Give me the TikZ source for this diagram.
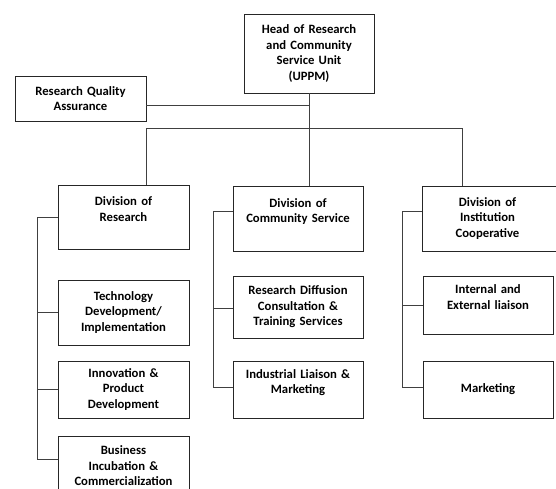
\documentclass[tikz,border=0pt]{standalone}
\usepackage{fontspec}
\setmainfont{Carlito}
\usetikzlibrary{positioning}
\tikzset{
  unit/.style={draw=black!85, line width=0.8pt, minimum width=130pt, inner sep=0pt,
    text width=128pt, align=center, font=\bfseries\fontsize{12.7}{15.5}\selectfont},
  link/.style={draw=black!75, line width=0.8pt},
}
\begin{document}
\begin{tikzpicture}[x=1pt,y=-1pt]
    \useasboundingbox (0,0) rectangle (556,489);
    % top level
    \node[unit, minimum height=79pt] (head) at (309,53.5) {Head of Research\\and Community\\Service Unit\\(UPPM)};
    \node[unit, minimum width=131pt, minimum height=45pt] (rqa) at (80.5,98.5) {Research Quality\\Assurance};
    % divisions
    \node[unit, minimum width=131pt, minimum height=64pt] (dor) at (123.5,217) {Division of\\Research\\\mbox{}};
    \node[unit, minimum height=65pt] (dcs) at (298,218.5) {Division of\\Community Service\\\mbox{}};
    \node[unit, minimum width=140pt, minimum height=65pt] (dic) at (492.5,218.5) {\hspace*{-10pt}Division of\\\hspace*{-10pt}Institution\\\hspace*{-10pt}Cooperative};
    % research units
    \node[unit, minimum width=131pt, minimum height=65pt] (tech) at (123.5,312.5) {Technology\\Development/\\Implementation};
    \node[unit, minimum width=131pt, minimum height=57pt] (innov) at (123.5,389.5) {Innovation \&\\Product\\Development};
    \node[unit, minimum width=131pt, minimum height=60pt] (biz) at (123.5,466) {Business\\Incubation \&\\Commercialization};
    % community units
    \node[unit, minimum height=62pt] (rdc) at (298,307) {Research Diffusion\\Consultation \&\\Training Services};
    \node[unit, minimum height=57pt] (ilm) at (298,389.5) {Industrial Liaison \&\\Marketing\\\mbox{}};
    % cooperative units
    \node[unit, minimum height=58pt] (iel) at (488,305) {Internal and\\External liaison\\\mbox{}};
    \node[unit, minimum height=57pt] (mkt) at (488,389.5) {Marketing};
    % bus
    \coordinate (busL) at (146,128);
    \coordinate (busR) at (462,128);
    \coordinate (rail1) at (37,0);
    \coordinate (rail2) at (213,0);
    \coordinate (rail3) at (402,0);
    \draw[link] (head.south) -- (head.south |- dcs.north);
    \draw[link] ([yshift=-6.5pt]rqa.east) -- ([yshift=-6.5pt]rqa.east -| head.south);
    \draw[link] (busL |- dor.north) -- (busL) -- (busR) -- (busR |- dic.north);
    % research column
    \draw[link] (dor.west) -- (dor.west -| rail1) |- ([yshift=7pt]biz.west);
    \draw[link] (tech.west) -- (tech.west -| rail1);
    \draw[link] (innov.west) -- (innov.west -| rail1);
    % community column
    \draw[link] ([yshift=7pt]dcs.west) -- ([yshift=7pt]dcs.west -| rail2) |- ([yshift=2pt]ilm.west);
    \draw[link] ([yshift=-1pt]rdc.west) -- ([yshift=-1pt]rdc.west -| rail2);
    % cooperative column
    \draw[link] ([yshift=7pt]dic.west) -- ([yshift=7pt]dic.west -| rail3) |- ([yshift=2pt]mkt.west);
    \draw[link] (iel.west) -- (iel.west -| rail3);
\end{tikzpicture}
\end{document}
